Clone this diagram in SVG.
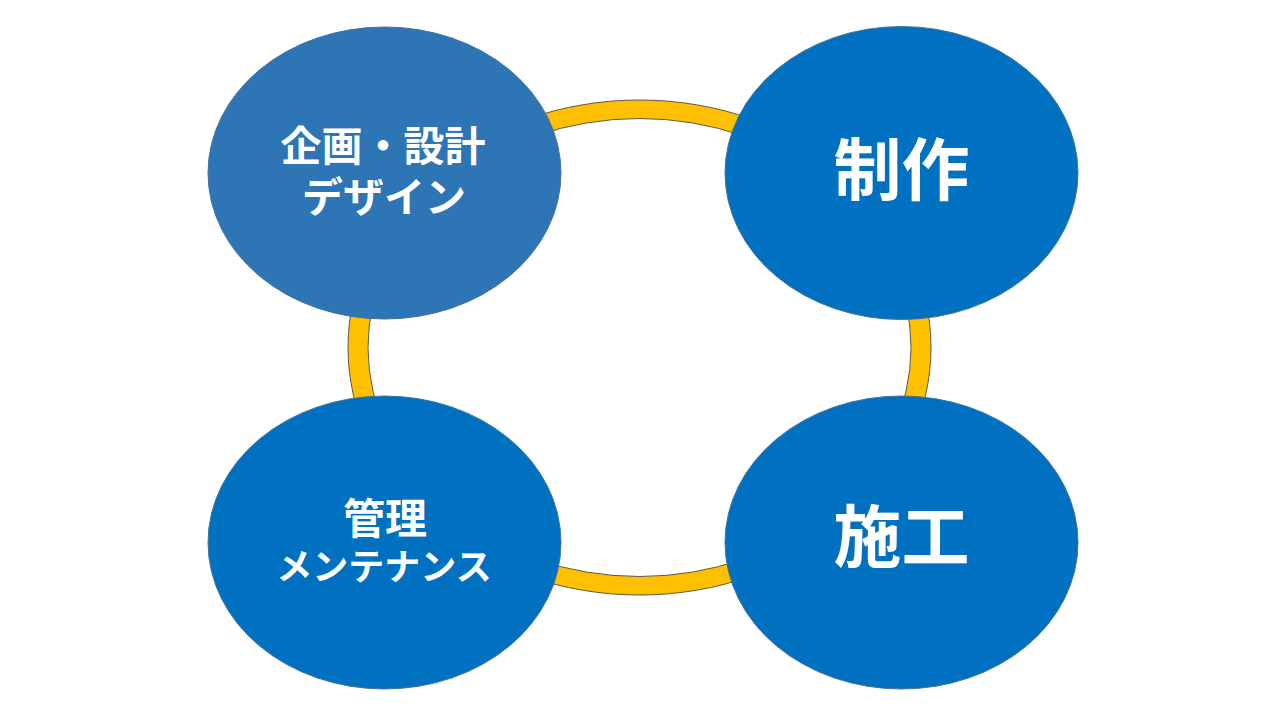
<svg xmlns="http://www.w3.org/2000/svg" width="1280" height="720" viewBox="0 0 1280 720">
  <style>
    .node { stroke: #41719C; stroke-width: 1; }
    .n1 { fill: #2E75B6; }
    .n2 { fill: #0070C0; }
    .ring { fill: #FFC000; fill-rule: evenodd; stroke: #5A5A3C; stroke-width: 1; }
    .lbl { fill: #FFFFFF; font-family: "Noto Sans CJK JP", "Noto Sans", sans-serif; font-weight: bold; text-anchor: middle; }
  </style>
  <rect width="1280" height="720" fill="#FFFFFF"/>
  <g id="connectors">
    <path class="ring" d="M 348 347.5 A 291.5 247.5 0 1 0 931 347.5 A 291.5 247.5 0 1 0 348 347.5 Z M 368 347.5 A 271.5 229 0 1 0 911 347.5 A 271.5 229 0 1 0 368 347.5 Z"/>
  </g>
  <g id="node-kikaku">
    <ellipse class="node n1" cx="384.5" cy="173" rx="176.5" ry="146"/>
    <text class="lbl" font-size="41"><tspan x="383" y="161">企画・設計</tspan><tspan x="384" y="212">デザイン</tspan></text>
  </g>
  <g id="node-seisaku">
    <ellipse class="node n2" cx="901.5" cy="173" rx="176.5" ry="146.5"/>
    <text class="lbl" x="901.5" y="195" font-size="68">制作</text>
  </g>
  <g id="node-kanri">
    <ellipse class="node n2" cx="384.5" cy="542.5" rx="176.5" ry="146.5"/>
    <text class="lbl"><tspan x="385" y="534" font-size="42">管理</tspan><tspan x="384" y="580" font-size="36">メンテナンス</tspan></text>
  </g>
  <g id="node-seko">
    <ellipse class="node n2" cx="901.5" cy="542.5" rx="176.5" ry="146.5"/>
    <text class="lbl" x="901.5" y="562" font-size="68">施工</text>
  </g>
</svg>
